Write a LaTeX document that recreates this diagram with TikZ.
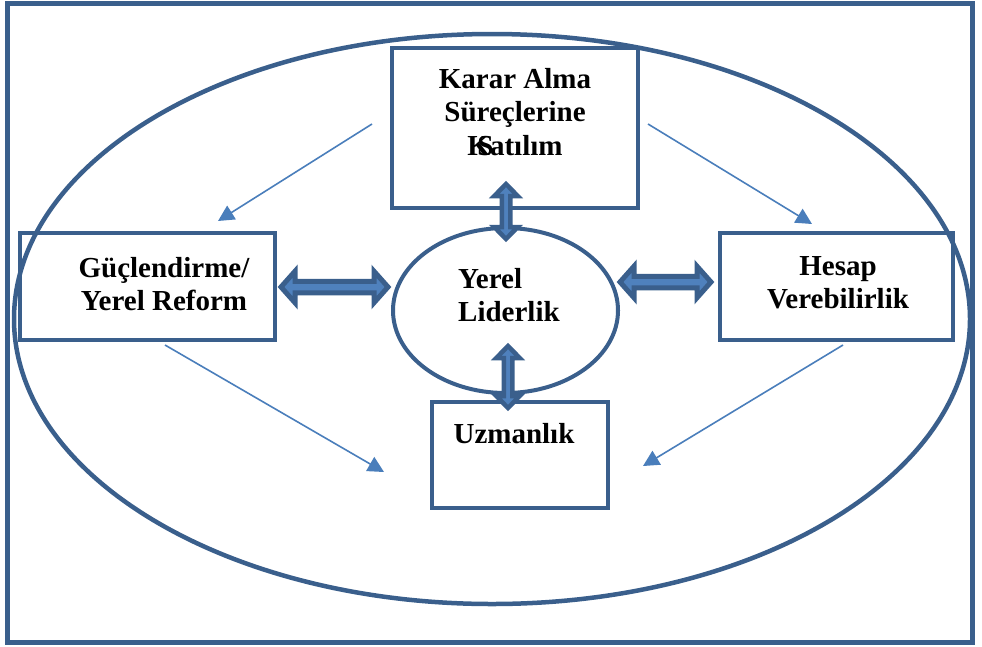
\documentclass[tikz,border=0pt]{standalone}
\usepackage{fontspec}
\setmainfont{Liberation Serif}
\usetikzlibrary{arrows.meta,shapes.geometric,calc}
\definecolor{dk}{HTML}{3A5F8C}
\definecolor{lt}{HTML}{4F81BD}
\definecolor{ar}{HTML}{4A7EBB}
\newcommand\hdbl[2]{\path[blockH] let \p1=(#1), \p2=(#2) in
 (\x1,\y1) -- (\x1+14pt,\y1+15.75pt) -- (\x1+14pt,\y1+5.75pt) -- (\x2-14pt,\y1+5.75pt) -- (\x2-14pt,\y1+15.75pt) -- (\x2,\y1)
 -- (\x2-14pt,\y1-15.75pt) -- (\x2-14pt,\y1-5.75pt) -- (\x1+14pt,\y1-5.75pt) -- (\x1+14pt,\y1-15.75pt) -- cycle;}
\newcommand\vdbl[2]{\path[blockV] let \p1=(#1), \p2=(#2) in
 (\x1,\y1) -- (\x1+11.75pt,\y1-12pt) -- (\x1+4.25pt,\y1-12pt) -- (\x1+4.25pt,\y2+12pt) -- (\x1+11.75pt,\y2+12pt) -- (\x1,\y2)
 -- (\x1-11.75pt,\y2+12pt) -- (\x1-4.25pt,\y2+12pt) -- (\x1-4.25pt,\y1-12pt) -- (\x1-11.75pt,\y1-12pt) -- cycle;}
\begin{document}
\begin{tikzpicture}[x=1pt,y=-1pt,
 frame/.style={draw=dk, line width=5pt},
 box/.style={draw=dk, line width=4.5pt, rectangle, inner sep=0pt},
 lbl/.style={font=\fontsize{29}{33.3}\selectfont\bfseries, align=center, inner sep=0pt},
 thin/.style={draw=ar, line width=1.6pt, -{Triangle[length=16pt,width=16pt]}},
 blockH/.style={draw=dk, fill=lt, line width=5pt},
 blockV/.style={draw=dk, fill=lt, line width=4.5pt}]
\useasboundingbox (0,0) rectangle (982,646);
\draw[frame] (7.5,3) rectangle (972.5,642);
\node[draw=dk, line width=4.5pt, ellipse, inner sep=0pt, minimum width=956pt, minimum height=570pt] (outer) at (492,319) {};
\node[box, minimum width=246pt, minimum height=160pt] (top) at (515,128) {};
\node[box, minimum width=255pt, minimum height=107pt] (left) at (147.5,286.5) {};
\node[box, minimum width=233pt, minimum height=107pt] (right) at (836.5,286.5) {};
\node[box, minimum width=176pt, minimum height=106pt] (bottom) at (520,455) {};
\node[draw=dk, line width=4pt, ellipse, inner sep=0pt, minimum width=225pt, minimum height=165pt] (lead) at (505.5,310.5) {};
\node[lbl] (ttop) at (515,112) {Karar Alma\\Süreçlerine\\K\rlap{\hspace{-12.6pt}S}atılım};
\node[lbl] (tleft) at (164,284) {Güçlendirme/\\Yerel Reform};
\node[lbl] (tright) at (838,283) {Hesap\\Verebilirlik};
\node[lbl, align=left, anchor=west] (tlead) at (458,295) {Yerel\\Liderlik};
\node[lbl] (tbottom) at (514,434) {Uzmanlık};
\coordinate (a1s) at (372,124); \coordinate (a1e) at (218,221);
\coordinate (a2s) at (648,124); \coordinate (a2e) at (812,224);
\coordinate (a3s) at (165,345); \coordinate (a3e) at (384,472);
\coordinate (a4s) at (843,345); \coordinate (a4e) at (643,466);
\draw[thin] (a1s) -- (a1e);
\draw[thin] (a2s) -- (a2e);
\draw[thin] (a3s) -- (a3e);
\draw[thin] (a4s) -- (a4e);
\coordinate (la1) at (281,287); \coordinate (la2) at (388,287);
\coordinate (ra1) at (620,282); \coordinate (ra2) at (711,282);
\coordinate (ta1) at (506,184); \coordinate (ta2) at (506,239);
\coordinate (ba1) at (508,346); \coordinate (ba2) at (508,408);
\hdbl{la1}{la2}
\hdbl{ra1}{ra2}
\vdbl{ta1}{ta2}
\vdbl{ba1}{ba2}
\end{tikzpicture}
\end{document}
